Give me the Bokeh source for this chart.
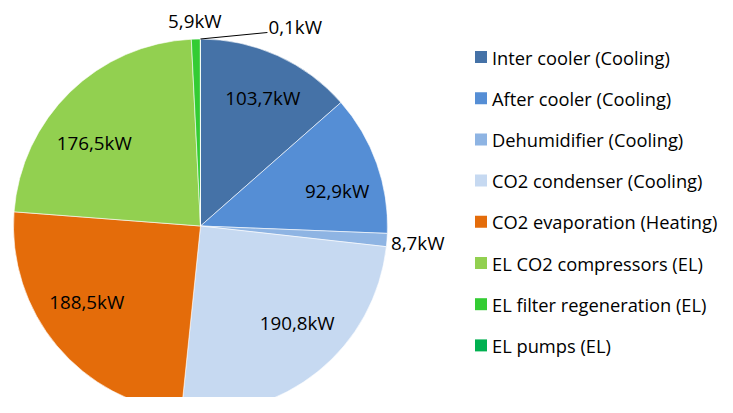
import numpy as np
from bokeh.plotting import figure
from bokeh.models import ColumnDataSource, Range1d
from bokeh.core.properties import value
from bokeh.embed import file_html
from bokeh.resources import INLINE

# ---- data ----
categories = ["Inter cooler (Cooling)", "After cooler (Cooling)", "Dehumidifier (Cooling)",
              "CO2 condenser (Cooling)", "CO2 evaporation (Heating)", "EL CO2 compressors (EL)",
              "EL filter regeneration (EL)", "EL pumps (EL)"]
power_kw = [103.7, 92.9, 8.7, 190.8, 188.5, 176.5, 5.9, 0.1]
colors = ["#4572A7", "#558ED5", "#8EB4E3", "#C6D9F1", "#E46C0A", "#92D050", "#33CC33", "#00B050"]

# ---- layout / style ----
W, H = 725, 397
CX, CY, R = 200, 171.5, 187
FONT = "Open Sans"
LABEL_SIZE = "18.8px"
LEGEND_SIZE = "18.3px"
label_mode = ["in", "in", "out", "in", "in", "in", "out", "out"]
label_nudge = [(6, 4), (8, -11), (4, -2.5), (11, 9), (-9, 12), (-11, -15), (-1, 18.5), (68, 12.5)]
label_align = ["center", "center", "left", "center", "center", "center", "center", "left"]
leader = [False, False, False, False, False, False, False, True]
leader_end = (67, 6.5)
IN_FRAC = 0.73
LEG_X, LEG_Y0, LEG_PITCH = 480.5, 340.5, 41.2
LEG_TEXT_X = 491.5

vals = np.array(power_kw)
total = vals.sum()
cum_after = np.cumsum(vals)
cum_before = cum_after - vals
start = np.pi / 2 - 2 * np.pi * cum_before / total
end = np.pi / 2 - 2 * np.pi * cum_after / total
mid = (start + end) / 2

src = ColumnDataSource(dict(start=start, end=end, color=colors, name=categories))

p = figure(width=W, height=H, output_backend="svg", toolbar_location=None,
           x_range=Range1d(0, W), y_range=Range1d(0, H), min_border=0)
p.axis.visible = False
p.grid.visible = False
p.outline_line_color = None
p.background_fill_color = "white"
p.border_fill_color = "white"

p.wedge(x=CX, y=CY, radius=R, start_angle="start", end_angle="end", direction="clock",
        fill_color="color", line_color="white", line_width=0.6, source=src)

# data labels
lx, ly, ltxt, lal = [], [], [], []
seg = dict(x0=[], y0=[], x1=[], y1=[])
for i, v in enumerate(power_kw):
    txt = f"{v:.1f}".replace(".", ",") + "kW"
    if label_mode[i] == "in":
        bx, by = CX + IN_FRAC * R * np.cos(mid[i]), CY + IN_FRAC * R * np.sin(mid[i])
    else:
        bx, by = CX + R * np.cos(mid[i]), CY + R * np.sin(mid[i])
    lx.append(bx + label_nudge[i][0])
    ly.append(by + label_nudge[i][1])
    ltxt.append(txt)
    lal.append(label_align[i])
    if leader[i]:
        seg["x0"].append(bx); seg["y0"].append(by)
        seg["x1"].append(bx + leader_end[0]); seg["y1"].append(by + leader_end[1])

p.segment(x0="x0", y0="y0", x1="x1", y1="y1", source=ColumnDataSource(seg),
          line_color="black", line_width=1)
p.text(x=lx, y=ly, text=ltxt, text_align=lal, text_baseline="middle",
       text_font=value(FONT), text_font_size=LABEL_SIZE, text_color="black")

# legend (drawn manually)
n = len(categories)
ly_leg = [LEG_Y0 - i * LEG_PITCH for i in range(n)]
p.scatter(x=[LEG_X] * n, y=ly_leg, marker="square", size=12, fill_color=colors, line_color=None)
p.text(x=[LEG_TEXT_X] * n, y=ly_leg, text=categories, text_align="left", text_baseline="middle",
       text_font=value(FONT), text_font_size=LEGEND_SIZE, text_color="black")

open("out.html", "w").write(file_html(p, INLINE))
